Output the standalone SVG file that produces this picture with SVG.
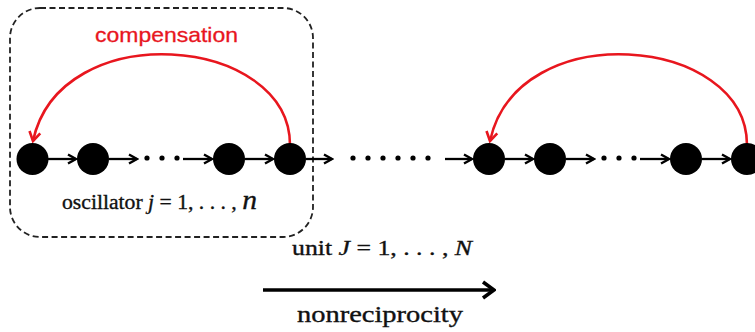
<svg xmlns="http://www.w3.org/2000/svg" width="755" height="332" viewBox="0 0 755 332">
<style>
.node{fill:#000}
.dot{fill:#000}
.link{stroke:#000;stroke-width:2.3;fill:none}
.comp{stroke:#e8161e;stroke-width:2.6;fill:none}
.serif{font-family:"Liberation Serif","DejaVu Serif",serif;fill:#111;stroke:#111;stroke-width:0.35}
.sans{font-family:"Liberation Sans",Arial,sans-serif}
</style>
<defs>
<marker id="ah" viewBox="0 0 12 12" refX="10" refY="6" markerWidth="12" markerHeight="12" markerUnits="userSpaceOnUse" orient="auto">
<path d="M2,1.5 L10,6 L2,10.5" fill="none" stroke="#000" stroke-width="2.4" stroke-linejoin="miter"/>
</marker>
<marker id="ahr" viewBox="0 0 14 14" refX="12" refY="7" markerWidth="14" markerHeight="14" markerUnits="userSpaceOnUse" orient="auto">
<path d="M3,1.5 L12,7 L3,12.5" fill="none" stroke="#e8161e" stroke-width="2.6"/>
</marker>
<marker id="ahb" viewBox="0 0 16 20" refX="14" refY="10" markerWidth="16" markerHeight="20" markerUnits="userSpaceOnUse" orient="auto">
<path d="M3,2 L14,10 L3,18" fill="none" stroke="#000" stroke-width="3.6"/>
</marker>
</defs>
<rect id="unit-box" x="10" y="8" width="303" height="229" rx="30" ry="30" fill="none" stroke="#222" stroke-width="1.8" stroke-dasharray="6,3.5"/>
<g id="connectors">
<line class="link" x1="48" y1="159" x2="76" y2="159" marker-end="url(#ah)"/>
<line class="link" x1="109" y1="159" x2="137" y2="159" marker-end="url(#ah)"/>
<line class="link" x1="183" y1="159" x2="212" y2="159" marker-end="url(#ah)"/>
<line class="link" x1="245" y1="159" x2="273" y2="159" marker-end="url(#ah)"/>
<line class="link" x1="306" y1="159" x2="332" y2="159" marker-end="url(#ah)"/>
<line class="link" x1="445" y1="159" x2="472" y2="159" marker-end="url(#ah)"/>
<line class="link" x1="505" y1="159" x2="533" y2="159" marker-end="url(#ah)"/>
<line class="link" x1="566" y1="159" x2="594" y2="159" marker-end="url(#ah)"/>
<line class="link" x1="640" y1="159" x2="669" y2="159" marker-end="url(#ah)"/>
<line class="link" x1="702" y1="159" x2="730" y2="159" marker-end="url(#ah)"/>
<path class="comp" d="M290,145 C290,35 60,15 33,141" marker-end="url(#ahr)"/>
<path class="comp" d="M747,145 C747,35 517,15 490,141" marker-end="url(#ahr)"/>
<line x1="263" y1="290" x2="494" y2="290" stroke="#000" stroke-width="3.6" marker-end="url(#ahb)"/>
</g>
<g id="dots">
<circle class="dot" cx="147" cy="158" r="2.6"/><circle class="dot" cx="162" cy="158" r="2.6"/><circle class="dot" cx="177" cy="158" r="2.6"/>
<circle class="dot" cx="353" cy="158" r="2.6"/><circle class="dot" cx="368" cy="158" r="2.6"/><circle class="dot" cx="383" cy="158" r="2.6"/><circle class="dot" cx="398" cy="158" r="2.6"/><circle class="dot" cx="413" cy="158" r="2.6"/><circle class="dot" cx="428" cy="158" r="2.6"/>
<circle class="dot" cx="604" cy="158" r="2.6"/><circle class="dot" cx="619" cy="158" r="2.6"/><circle class="dot" cx="634" cy="158" r="2.6"/>
</g>
<g id="n1"><circle class="node" cx="32.5" cy="159" r="16"/></g>
<g id="n2"><circle class="node" cx="93" cy="159" r="16"/></g>
<g id="n3"><circle class="node" cx="229" cy="159" r="16"/></g>
<g id="n4"><circle class="node" cx="290" cy="159" r="16"/></g>
<g id="n5"><circle class="node" cx="489" cy="159" r="16"/></g>
<g id="n6"><circle class="node" cx="550" cy="159" r="16"/></g>
<g id="n7"><circle class="node" cx="686" cy="159" r="16"/></g>
<g id="n8"><circle class="node" cx="747" cy="159" r="16"/></g>
<g id="labels">
<text class="sans" x="95" y="42" font-size="21" fill="#e8161e" stroke="#e8161e" stroke-width="0.3" textLength="143" lengthAdjust="spacingAndGlyphs">compensation</text>
<text class="serif" x="62" y="209" font-size="20.5" textLength="195" lengthAdjust="spacingAndGlyphs">oscillator <tspan font-style="italic">j</tspan> = 1, . . . , <tspan font-style="italic" font-size="28">n</tspan></text>
<text class="serif" x="292" y="255" font-size="21.5" textLength="180" lengthAdjust="spacingAndGlyphs">unit <tspan font-style="italic">J</tspan> = 1, . . . , <tspan font-style="italic">N</tspan></text>
<text class="serif" x="297" y="322" font-size="22.5" textLength="166" lengthAdjust="spacingAndGlyphs">nonreciprocity</text>
</g>
</svg>
